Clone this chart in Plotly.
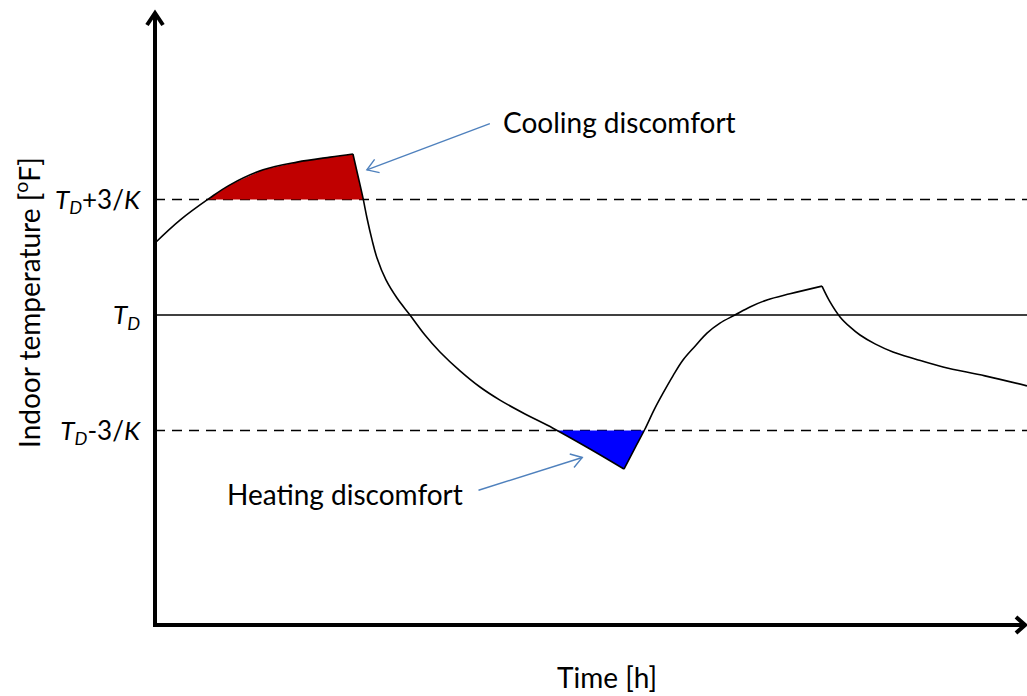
import math
import plotly.graph_objects as go

# time [h] and indoor temperature relative to T_D (in units where 3/K = 3)
t_warm = [0.0, 0.29, 0.63, 0.86, 1.24, 1.63, 2.01, 2.27]
T_warm = [1.87, 2.47, 3.04, 3.38, 3.77, 3.97, 4.10, 4.18]

t_fall = [2.27, 2.328, 2.385, 2.431, 2.489, 2.546, 2.649, 2.775, 2.924, 3.096, 3.268,
          3.498, 3.727, 3.956, 4.243, 4.564, 4.989, 5.378]
T_fall = [4.18, 3.61, 3.04, 2.52, 1.95, 1.48, 0.91, 0.44, 0.0, -0.52, -0.96,
          -1.45, -1.87, -2.21, -2.57, -2.94, -3.48, -4.00]

t_rise = [5.378, 5.505, 5.619, 5.722, 5.826, 5.940, 6.055, 6.193, 6.330, 6.479,
          6.651, 6.823, 7.018, 7.282, 7.649]
T_rise = [-4.00, -3.45, -2.96, -2.47, -2.03, -1.58, -1.17, -0.81, -0.47, -0.21,
          0.0, 0.21, 0.39, 0.55, 0.75]

t_tail = [7.649, 7.741, 7.856, 7.970, 8.085, 8.257, 8.463, 8.716, 9.037, 9.518, 10.0]
T_tail = [0.75, 0.34, -0.05, -0.31, -0.52, -0.75, -0.96, -1.14, -1.35, -1.58, -1.84]

band_vals = [3, 0, -3]
band_text = ["<i>T</i><sub><i>D</i></sub>+3/<i>K</i>",
             "<i>T</i><sub><i>D</i></sub>",
             "<i>T</i><sub><i>D</i></sub>-3/<i>K</i>"]
band_dash = ["10px,7px", "solid", "10px,7px"]

FONT = "Lato"
W, H = 1027, 696
M_L, M_B = 155, 71
PW, PH = W - M_L, H - M_B
X_RANGE = [0, 10]
Y_RANGE = [-8.05, 8.18]


def to_px(x, y):
    px = M_L + (x - X_RANGE[0]) / (X_RANGE[1] - X_RANGE[0]) * PW
    py = (Y_RANGE[1] - y) / (Y_RANGE[1] - Y_RANGE[0]) * PH
    return px, py


def to_data(px, py):
    x = X_RANGE[0] + (px - M_L) / PW * (X_RANGE[1] - X_RANGE[0])
    y = Y_RANGE[1] - py / PH * (Y_RANGE[1] - Y_RANGE[0])
    return x, y


def chevron(tip, tail, size=13, half=math.radians(33)):
    # open "V" arrow head, built in pixel space so the angle looks right
    tx, ty = to_px(*tip)
    ax, ay = to_px(*tail)
    ang = math.atan2(ay - ty, ax - tx)
    p1 = to_data(tx + size * math.cos(ang + half), ty + size * math.sin(ang + half))
    p2 = to_data(tx + size * math.cos(ang - half), ty + size * math.sin(ang - half))
    return f"M {p1[0]},{p1[1]} L {tip[0]},{tip[1]} L {p2[0]},{p2[1]}"


def cut_region(ts, Ts, level, above):
    # part of the curve beyond a comfort limit, closed along the limit line
    xs, ys = [], []
    for i in range(len(ts)):
        inside = Ts[i] >= level if above else Ts[i] <= level
        if i > 0:
            was = Ts[i - 1] >= level if above else Ts[i - 1] <= level
            if inside != was:
                f = (level - Ts[i - 1]) / (Ts[i] - Ts[i - 1])
                xs.append(ts[i - 1] + f * (ts[i] - ts[i - 1]))
                ys.append(level)
        if inside:
            xs.append(ts[i])
            ys.append(Ts[i])
    xs.append(xs[0])
    ys.append(ys[0])
    return xs, ys


fig = go.Figure()

# discomfort areas
cx, cy = cut_region(t_warm + t_fall[1:], T_warm + T_fall[1:], 3, True)
fig.add_trace(go.Scatter(x=cx, y=cy, fill="toself", fillcolor="#C00000",
                         line=dict(width=0), mode="lines", hoverinfo="skip"))
hx, hy = cut_region(t_fall + t_rise[1:], T_fall + T_rise[1:], -3, False)
fig.add_trace(go.Scatter(x=hx, y=hy, fill="toself", fillcolor="#0000FF",
                         line=dict(width=0), mode="lines", hoverinfo="skip"))

# comfort limits and set point
for v, d in zip(band_vals, band_dash):
    fig.add_shape(type="line", xref="x", yref="y", x0=X_RANGE[0], x1=X_RANGE[1],
                  y0=v, y1=v, line=dict(color="black", width=1.4, dash=d), layer="below")

# temperature curve, one smooth piece between each switch of the HVAC
for ts, Ts in [(t_warm, T_warm), (t_fall, T_fall), (t_rise, T_rise), (t_tail, T_tail)]:
    fig.add_trace(go.Scatter(x=ts, y=Ts, mode="lines",
                             line=dict(color="black", width=1.6, shape="spline", smoothing=1.0),
                             hoverinfo="skip"))

# axes drawn as arrows
ax_col = "black"
top = 1 - 13 / PH
right = (1025 - M_L) / PW
fig.add_shape(type="line", xref="paper", yref="paper", x0=0, x1=0, y0=-0.003, y1=top,
              line=dict(color=ax_col, width=4))
fig.add_shape(type="line", xref="paper", yref="paper", x0=-0.002, x1=right, y0=0, y1=0,
              line=dict(color=ax_col, width=4))
hs = 12 / PH
fig.add_shape(type="path", xref="paper", yref="paper",
              path=f"M {-8 / PW},{top - hs} L 0,{top} L {8 / PW},{top - hs}",
              line=dict(color=ax_col, width=4))
fig.add_shape(type="path", xref="paper", yref="paper",
              path=f"M {right - 9 / PW},{8 / PH} L {right},0 L {right - 9 / PW},{-8 / PH}",
              line=dict(color=ax_col, width=4))

# pointers to the discomfort areas
arrow_col = "#4F81BD"
pointers = [
    ((2.43, 3.77), (3.84, 4.97), "Cooling discomfort", "left", 3.97, 5.0),
    ((4.90, -3.70), (3.71, -4.55), "Heating discomfort", "right", 3.56, -4.65),
]
for tip, tail, text, anchor, tx, ty in pointers:
    fig.add_shape(type="line", xref="x", yref="y", x0=tail[0], y0=tail[1], x1=tip[0], y1=tip[1],
                  line=dict(color=arrow_col, width=1.4))
    fig.add_shape(type="path", xref="x", yref="y", path=chevron(tip, tail),
                  line=dict(color=arrow_col, width=1.4))
    fig.add_annotation(x=tx, y=ty, xref="x", yref="y", text=text, showarrow=False,
                       xanchor=anchor, yanchor="middle", font=dict(family=FONT, size=28, color="black"))

# axis titles
fig.add_annotation(x=(607 - M_L) / PW, y=-(677 - PH) / PH, xref="paper", yref="paper",
                   text="Time [h]", showarrow=False, xanchor="center", yanchor="middle",
                   font=dict(family=FONT, size=28, color="black"))
fig.add_annotation(x=-(M_L - 27) / PW, y=1 - 303 / PH, xref="paper", yref="paper",
                   text="Indoor temperature [<sup>o</sup>F]", textangle=-90, showarrow=False,
                   xanchor="center", yanchor="middle",
                   font=dict(family=FONT, size=28, color="black"))

fig.update_layout(
    width=W, height=H,
    margin=dict(l=M_L, r=0, t=0, b=M_B),
    paper_bgcolor="white", plot_bgcolor="white",
    showlegend=False,
    font=dict(family=FONT, color="black"),
    xaxis=dict(range=X_RANGE, showgrid=False, zeroline=False, showline=False,
               showticklabels=False, ticks=""),
    yaxis=dict(range=Y_RANGE, showgrid=False, zeroline=False, showline=False,
               tickvals=band_vals, ticktext=band_text, ticks="",
               ticklabelstandoff=14, tickfont=dict(family=FONT, size=26, color="black")),
)

fig.write_html("out.html", config={"displayModeBar": False},
               post_script="document.body.style.margin='0';")
